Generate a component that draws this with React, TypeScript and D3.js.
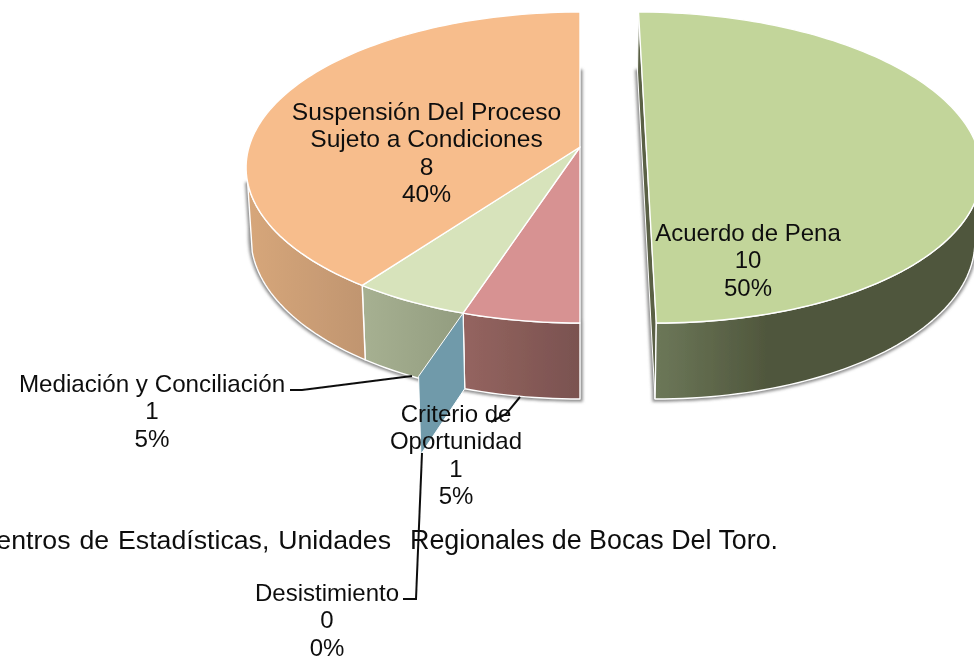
import React from "react";
import * as d3 from "d3";

const categories = [
  "Acuerdo de Pena",
  "Criterio de Oportunidad",
  "Desistimiento",
  "Mediación y Conciliación",
  "Suspensión Del Proceso Sujeto a Condiciones",
];
const values = [10, 1, 0, 1, 8];
const topColors = ["#c2d59a", "#d79292", "#6f9aaa", "#d7e3bb", "#f7bd8c"];
const wallColors = [
  ["#6c7758", "#4f563c"],
  ["#94645f", "#7a5250"],
  ["#6f9aaa", "#6f9aaa"],
  ["#a6b091", "#929c7f"],
  ["#d6a67a", "#c09570"],
];
const captionLeft = "Centros de Estadísticas, Unidades";
const captionRight = "Regionales de Bocas Del Toro.";

const width = 974;
const height = 659;
const font = "'Liberation Sans', Arial, sans-serif";
const fontSize = 24;

// perspective fit of the tilted disc
const cx = 580;
const cy = 147;
const rx = 331;
const ry = 152.8;
const k = 0.132;
const explode = 0.2; // first slice pulled out
const zeroExplode = 1.317; // the empty slice shows up as a single wall
const wallLimit = (13 * Math.PI) / 180; // walls stop at the silhouette edge, just below the widest point

const total = d3.sum(values);
const pct = d3.format(".0%");
const pie = d3
  .pie<number>()
  .sort(null)
  .startAngle(0)
  .endAngle(2 * Math.PI);
const arcs = pie(values);
const line = d3.line<number[]>();

function project(a: number, r: number, dx: number, low: boolean) {
  const u = r * Math.sin(a) + dx;
  const v = -r * Math.cos(a);
  const w = 1 - k * v;
  const x = cx + (rx * u) / w;
  const y = cy + (ry * v) / w;
  if (!low) return [x, y];
  return [x - (x - cx) * (x < cx ? 0.014 : 0.016), y + 68 + 8 * v];
}

function rim(a0: number, a1: number, dx: number, low: boolean) {
  const n = Math.max(2, Math.ceil(Math.abs(a1 - a0) * 40));
  return d3.range(n + 1).map((i) => project(a0 + ((a1 - a0) * i) / n, 1, dx, low));
}

function wallPoints(i: number) {
  const d = arcs[i];
  const dx = i === 0 ? explode : 0;
  const a0 = Math.max(d.startAngle, Math.PI / 2 + wallLimit);
  const a1 = d.endAngle > Math.PI ? Math.min(d.endAngle, (3 * Math.PI) / 2 - wallLimit) : d.endAngle;
  return [...rim(a0, a1, dx, false), ...rim(a1, a0, dx, true)];
}

// labels: line texts, centre x, first line y
const labels = [
  { lines: ["Acuerdo de Pena", "10", pct(values[0] / total)], x: 748, y: 241, size: 24 },
  { lines: ["Criterio de", "Oportunidad", String(values[1]), pct(values[1] / total)], x: 456, y: 422, size: 24 },
  { lines: ["Desistimiento", String(values[2]), pct(values[2] / total)], x: 327, y: 601, size: 24 },
  { lines: ["Mediación y Conciliación", String(values[3]), pct(values[3] / total)], x: 152, y: 392, size: 24.2 },
  {
    lines: ["Suspensión Del Proceso", "Sujeto a Condiciones", String(values[4]), pct(values[4] / total)],
    x: 426.5,
    y: 120,
    size: 24.6,
  },
];
const leaders = [
  [[290, 390], [302, 390], [412, 376]],
  [[520, 397], [506, 414], [491, 422]],
  [[422, 453], [416, 599], [403, 599]],
];

export default function App() {
  const main = arcs.slice(1);
  const first = arcs[0];
  const zero = arcs[2];
  const mainStart = main[0].startAngle;

  return (
    <svg
      width={width}
      height={height}
      viewBox={`0 0 ${width} ${height}`}
      style={{ position: "absolute", left: 0, top: 0, display: "block", background: "#fff" }}
      fontFamily={font}
      fontSize={fontSize}
    >
      <defs>
        <filter id="soft" x="-10%" y="-10%" width="120%" height="120%">
          <feGaussianBlur stdDeviation="1.5" />
        </filter>
        <filter id="scan" filterUnits="userSpaceOnUse" x={0} y={0} width={width} height={height}>
          <feGaussianBlur stdDeviation="0.45" />
        </filter>
        {arcs.map((d, i) => {
          const dx = i === 0 ? explode : 0;
          const xs = rim(d.startAngle, d.endAngle, dx, true).map((p) => p[0]);
          return (
            <linearGradient
              key={i}
              id={`wall${i}`}
              gradientUnits="userSpaceOnUse"
              x1={i === 0 ? 657 : i === 4 ? 250 : d3.min(xs)}
              x2={i === 0 ? 770 : i === 4 ? 365 : d3.max(xs)}
              y1={0}
              y2={0}
            >
              <stop offset="0" stopColor={wallColors[i][0]} />
              <stop offset="1" stopColor={wallColors[i][1]} />
            </linearGradient>
          );
        })}
      </defs>

      <g filter="url(#scan)">
        {/* soft shadows under both pieces */}
        <g filter="url(#soft)" fill="#8c8c8c" stroke="#8c8c8c" strokeWidth={5}>
          <path d={line(rim(mainStart, 2 * Math.PI, 0, true)) + "Z"} />
          <path d={line(rim(first.startAngle, first.endAngle, explode, true)) + "Z"} />
          {arcs.map((d, i) =>
            d.value === 0 ? null : <path key={i} d={line(wallPoints(i)) + "Z"} />
          )}
        </g>

        {/* cut face of the pulled out slice */}
        <path
          d={
            line([
              project(0, 1, explode, false),
              project(Math.PI, 1, explode, false),
              project(Math.PI, 1, explode, true),
              project(0, 1, explode, true),
            ]) + "Z"
          }
          fill="#5a6145"
          stroke="#fff"
          strokeWidth={1}
        />

        {/* outer walls */}
        {arcs.map((d, i) => {
          if (d.value === 0) return null;
          return (
            <path key={i} d={line(wallPoints(i)) + "Z"} fill={`url(#wall${i})`} stroke="#fff" strokeWidth={1.4} strokeLinejoin="round" />
          );
        })}

        {/* top faces */}
        {arcs.map((d, i) => {
          if (d.value === 0) return null;
          const dx = i === 0 ? explode : 0;
          const pts = [project(0, 0, dx, false), ...rim(d.startAngle, d.endAngle, dx, false)];
          return <path key={i} d={line(pts) + "Z"} fill={topColors[i]} stroke="#fff" strokeWidth={1.4} strokeLinejoin="round" />;
        })}

        {/* zero slice: only its wall is visible */}
        <path
          d={
            line([
              project(zero.startAngle, 1, 0, false),
              project(zero.startAngle, 1, 0, true),
              project(zero.startAngle, zeroExplode, 0, true),
              project(zero.startAngle, zeroExplode, 0, false),
            ]) + "Z"
          }
          fill={topColors[2]}
          stroke="#fff"
          strokeWidth={1}
        />

        {leaders.map((l, i) => (
          <path key={i} d={line(l as [number, number][]) ?? ""} fill="none" stroke="#111" strokeWidth={2} />
        ))}

        {labels.map((l) => (
          <text key={l.lines[0]} textAnchor="middle" fill="#111" fontSize={l.size}>
            {l.lines.map((t, j) => (
              <tspan key={j} x={l.x} y={l.y + j * 27.4}>
                {t}
              </tspan>
            ))}
          </text>
        ))}

        <text x={391} y={549} textAnchor="end" fill="#111" fontSize={26.7} wordSpacing={1.5}>
          {captionLeft}
        </text>
        <text x={410} y={549} fill="#111" fontSize={26.85}>
          {captionRight}
        </text>
      </g>
      <title>{categories.join(", ")}</title>
    </svg>
  );
}
